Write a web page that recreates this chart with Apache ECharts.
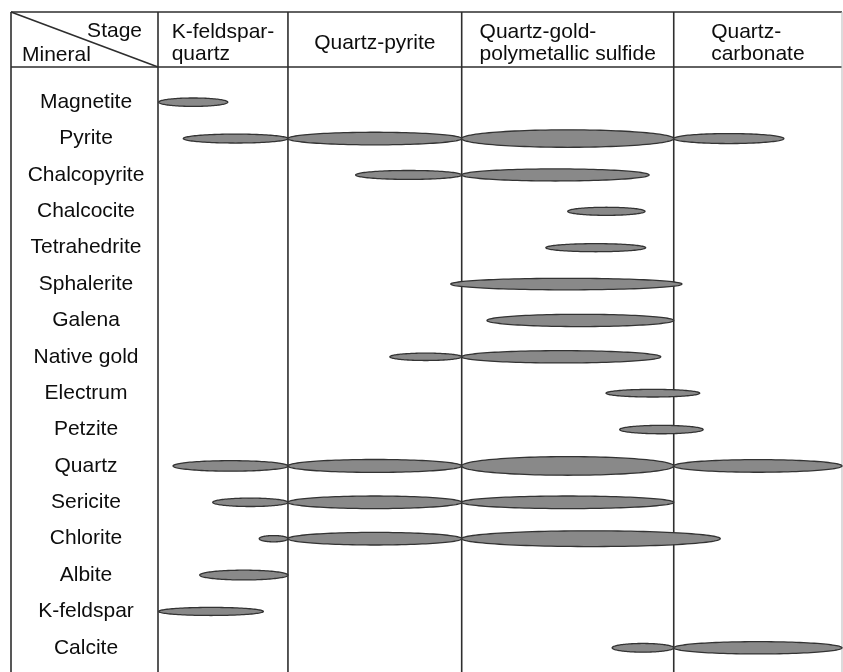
<!DOCTYPE html>
<html>
<head>
<meta charset="utf-8">
<script src="https://cdn.jsdelivr.net/npm/echarts@6/dist/echarts.min.js"></script>
<style>
  html, body { margin: 0; padding: 0; background: #fff; }
  #chart { width: 843px; height: 672px; }
</style>
</head>
<body>
<div id="chart"></div>
<script>
// Minerals listed top to bottom
const minerals = [
  'Magnetite', 'Pyrite', 'Chalcopyrite', 'Chalcocite', 'Tetrahedrite',
  'Sphalerite', 'Galena', 'Native gold', 'Electrum', 'Petzite',
  'Quartz', 'Sericite', 'Chlorite', 'Albite', 'K-feldspar', 'Calcite'
];

// Mineralization stages, left to right
const stages = [
  'K-feldspar-\nquartz',
  'Quartz-pyrite',
  'Quartz-gold-\npolymetallic sulfide',
  'Quartz-\ncarbonate'
];

// Stage boundaries on a relative time scale (0 = earliest, 100 = latest)
const stageBounds = [0, 19.0, 44.4, 75.4, 100];

// Occurrence periods: [mineral, start, end, relative abundance]
const periods = [
  ['Magnetite',    0.1, 10.2, 4.0],
  ['Pyrite',       3.7, 19.0, 4.25],
  ['Pyrite',      19.0, 44.4, 6.0],
  ['Pyrite',      44.4, 75.4, 8.3],
  ['Pyrite',      75.4, 91.5, 4.75],
  ['Chalcopyrite',28.9, 44.4, 4.25],
  ['Chalcopyrite',44.4, 71.8, 5.75],
  ['Chalcocite',  59.9, 71.2, 3.85],
  ['Tetrahedrite',56.7, 71.3, 3.85],
  ['Sphalerite',  42.8, 76.6, 5.5],
  ['Galena',      48.1, 75.4, 5.85],
  ['Native gold', 33.9, 44.4, 3.5],
  ['Native gold', 44.4, 73.5, 5.85],
  ['Electrum',    65.5, 79.2, 3.65],
  ['Petzite',     67.5, 79.7, 4.0],
  ['Quartz',       2.2, 19.0, 5.0],
  ['Quartz',      19.0, 44.4, 6.15],
  ['Quartz',      44.4, 75.4, 8.85],
  ['Quartz',      75.4, 100,  6.0],
  ['Sericite',     8.0, 19.0, 4.0],
  ['Sericite',    19.0, 44.4, 6.0],
  ['Sericite',    44.4, 75.4, 6.0],
  ['Chlorite',    14.8, 19.0, 3.0],
  ['Chlorite',    19.0, 44.4, 6.0],
  ['Chlorite',    44.4, 82.2, 7.5],
  ['Albite',       6.1, 19.0, 4.65],
  ['K-feldspar',   0.1, 15.4, 3.85],
  ['Calcite',     66.4, 75.4, 4.15],
  ['Calcite',     75.4, 100,  5.85]
];

// Layout / style constants
const FONT_FAMILY = '"Liberation Sans", Arial, sans-serif';
const FONT_SIZE = 21;
const TEXT_COLOR = '#0d0d0d';
const LINE_COLOR = '#2e2e2e';
const FRAME_LEFT = 11, FRAME_RIGHT = 842;
const HEADER_TOP = 12, HEADER_BOTTOM = 67;
const ABUNDANCE_PX = 2.1;   // pixel thickness per unit of abundance

const measureCtx = document.createElement('canvas').getContext('2d');
measureCtx.font = FONT_SIZE + 'px ' + FONT_FAMILY;
function textWidth(s) { return measureCtx.measureText(s).width; }

const chart = echarts.init(document.getElementById('chart'), null, { renderer: 'canvas' });

// Stage columns: divider line at each stage start, header text centred in the column
function renderStage(params, api) {
  const x0 = api.coord([api.value(0), 0])[0];
  const x1 = api.coord([api.value(1), 0])[0];
  const name = stages[api.value(2)];
  const lines = name.split('\n');
  const blockW = Math.max.apply(null, lines.map(textWidth));
  const cx = (x0 + x1) / 2;
  return {
    type: 'group',
    children: [
      {
        type: 'line',
        shape: { x1: x0, y1: HEADER_TOP, x2: x0, y2: api.getHeight() },
        style: { stroke: LINE_COLOR, lineWidth: 1.6 }
      },
      {
        type: 'text',
        style: {
          text: name,
          x: cx - blockW / 2,
          y: (HEADER_TOP + HEADER_BOTTOM) / 2 + 4,
          align: 'left',
          verticalAlign: 'middle',
          lineHeight: 22,
          fontSize: FONT_SIZE,
          fontFamily: FONT_FAMILY,
          fill: TEXT_COLOR
        }
      }
    ]
  };
}

// Occurrence period drawn as a horizontal ellipse spanning start..end
function renderPeriod(params, api) {
  const row = api.value(2);
  const p0 = api.coord([api.value(0), row]);
  const p1 = api.coord([api.value(1), row]);
  const cx = (p0[0] + p1[0]) / 2;
  const cy = p0[1];
  const rx = (p1[0] - p0[0]) / 2;
  const ry = api.value(3) * ABUNDANCE_PX / 2;
  const pts = [];
  const n = 120;
  for (let k = 0; k < n; k++) {
    const t = (k / n) * Math.PI * 2;
    pts.push([cx + rx * Math.cos(t), cy + ry * Math.sin(t)]);
  }
  return {
    type: 'polygon',
    shape: { points: pts },
    style: { fill: '#898989', stroke: '#333', lineWidth: 1.3 }
  };
}

const option = {
  animation: false,
  backgroundColor: '#fff',
  grid: { left: 158, right: 843 - FRAME_RIGHT, top: 84, bottom: 6 },
  xAxis: {
    type: 'value', min: 0, max: 100,
    axisLine: { show: false }, axisTick: { show: false },
    axisLabel: { show: false }, splitLine: { show: false }
  },
  yAxis: {
    type: 'category',
    inverse: true,
    data: minerals,
    axisLine: { show: false },
    axisTick: { show: false },
    splitLine: { show: false },
    axisLabel: {
      align: 'center',
      margin: 72,
      fontSize: FONT_SIZE,
      fontFamily: FONT_FAMILY,
      color: TEXT_COLOR
    }
  },
  graphic: [
    { type: 'line', shape: { x1: FRAME_LEFT, y1: HEADER_TOP, x2: FRAME_RIGHT, y2: HEADER_TOP },
      style: { stroke: LINE_COLOR, lineWidth: 1.6 } },
    { type: 'line', shape: { x1: FRAME_LEFT, y1: HEADER_BOTTOM, x2: FRAME_RIGHT, y2: HEADER_BOTTOM },
      style: { stroke: LINE_COLOR, lineWidth: 1.6 } },
    { type: 'line', shape: { x1: FRAME_LEFT, y1: HEADER_TOP, x2: FRAME_LEFT, y2: 672 },
      style: { stroke: LINE_COLOR, lineWidth: 1.6 } },
    { type: 'line', shape: { x1: FRAME_RIGHT, y1: HEADER_TOP, x2: FRAME_RIGHT, y2: 672 },
      style: { stroke: '#c4c4c4', lineWidth: 1.2 } },
    { type: 'line', shape: { x1: FRAME_LEFT, y1: HEADER_TOP, x2: 158, y2: HEADER_BOTTOM },
      style: { stroke: LINE_COLOR, lineWidth: 1.6 } },
    { type: 'text', x: 142, y: 31,
      style: { text: 'Stage', align: 'right', verticalAlign: 'middle',
               fontSize: FONT_SIZE, fontFamily: FONT_FAMILY, fill: TEXT_COLOR } },
    { type: 'text', x: 22, y: 55,
      style: { text: 'Mineral', align: 'left', verticalAlign: 'middle',
               fontSize: FONT_SIZE, fontFamily: FONT_FAMILY, fill: TEXT_COLOR } }
  ],
  series: [
    {
      type: 'custom',
      name: 'Stages',
      renderItem: renderStage,
      encode: { x: [0, 1] },
      z: 1,
      silent: true,
      data: stages.map((s, i) => [stageBounds[i], stageBounds[i + 1], i])
    },
    {
      type: 'custom',
      name: 'Periods',
      renderItem: renderPeriod,
      encode: { x: [0, 1], y: 2 },
      z: 3,
      silent: true,
      data: periods.map(p => [p[1], p[2], minerals.indexOf(p[0]), p[3]])
    }
  ]
};

chart.setOption(option);
</script>
</body>
</html>
